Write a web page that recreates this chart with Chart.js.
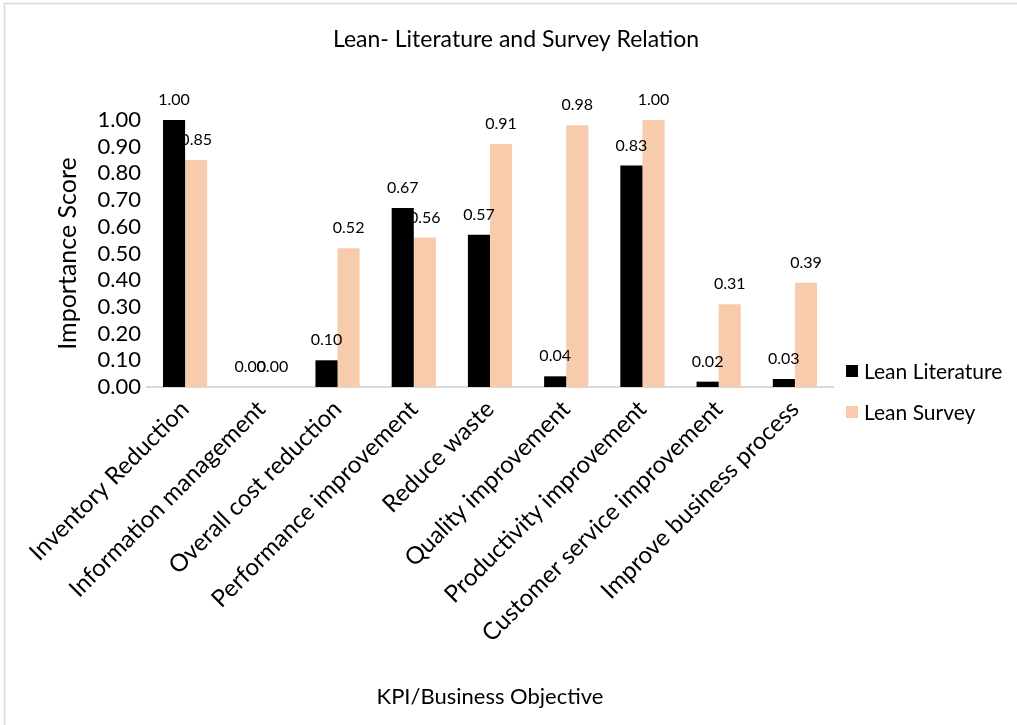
<!DOCTYPE html>
<html>
<head>
<meta charset="utf-8">
<script src="https://cdn.jsdelivr.net/npm/chart.js@4.4.1/dist/chart.umd.min.js"></script>
<style>
  html, body { margin: 0; padding: 0; background: #ffffff; }
  #wrap { width: 1017px; height: 725px; position: relative; }
</style>
</head>
<body>
<div id="wrap"><canvas id="chart"></canvas></div>
<script>
// KPI categories on the x axis
const categories = [
  'Inventory Reduction',
  'Information management',
  'Overall cost reduction',
  'Performance improvement',
  'Reduce waste',
  'Quality improvement',
  'Productivity improvement',
  'Customer service improvement',
  'Improve business process'
];

// Importance scores per source
const leanLiterature = [1.00, 0.00, 0.10, 0.67, 0.57, 0.04, 0.83, 0.02, 0.03];
const leanSurvey     = [0.85, 0.00, 0.52, 0.56, 0.91, 0.98, 1.00, 0.31, 0.39];

const seriesNames = ['Lean Literature', 'Lean Survey'];
const chartTitle = 'Lean- Literature and Survey Relation';
const yTitle = 'Importance Score';
const xTitle = 'KPI/Business Objective';

const FONT = 'Lato, "Noto Sans", sans-serif';
const colors = ['#000000', '#F8CBAD'];

// Light frame, title and legend drawn around the plot
const decorations = {
  id: 'decorations',
  beforeDraw(chart) {
    const ctx = chart.ctx;
    ctx.save();
    ctx.fillStyle = '#ffffff';
    ctx.fillRect(0, 0, chart.width, chart.height);
    ctx.strokeStyle = '#d9d9d9';
    ctx.lineWidth = 1.5;
    ctx.beginPath();
    ctx.moveTo(4.5, chart.height + 2);
    ctx.lineTo(4.5, 3.5);
    ctx.lineTo(chart.width + 2, 3.5);
    ctx.stroke();
    ctx.restore();
  },
  afterDraw(chart) {
    const ctx = chart.ctx;
    ctx.save();
    ctx.fillStyle = '#000000';
    ctx.font = '23px ' + FONT;
    ctx.textAlign = 'center';
    ctx.textBaseline = 'middle';
    ctx.fillText(chartTitle, 516, 40);

    // legend
    ctx.font = '21px ' + FONT;
    ctx.textAlign = 'left';
    chart.data.datasets.forEach((ds, i) => {
      const y = 371 + i * 41;
      ctx.fillStyle = ds.backgroundColor;
      ctx.fillRect(846, y - 6, 12, 12);
      ctx.fillStyle = '#000000';
      ctx.fillText(ds.label, 864, y + 1);
    });
    ctx.restore();
  }
};

// Value labels above each bar
const valueLabels = {
  id: 'valueLabels',
  afterDatasetsDraw(chart) {
    const ctx = chart.ctx;
    ctx.save();
    ctx.font = '16px ' + FONT;
    ctx.fillStyle = '#000000';
    ctx.textAlign = 'center';
    ctx.textBaseline = 'middle';
    chart.data.datasets.forEach((ds, di) => {
      const meta = chart.getDatasetMeta(di);
      meta.data.forEach((bar, i) => {
        ctx.fillText(ds.data[i].toFixed(2), bar.x, bar.y - 20);
      });
    });
    ctx.restore();
  }
};

new Chart(document.getElementById('chart'), {
  type: 'bar',
  data: {
    labels: categories,
    datasets: [
      { label: seriesNames[0], data: leanLiterature, backgroundColor: colors[0],
        categoryPercentage: 0.58, barPercentage: 1.0 },
      { label: seriesNames[1], data: leanSurvey, backgroundColor: colors[1],
        categoryPercentage: 0.58, barPercentage: 1.0 }
    ]
  },
  options: {
    responsive: true,
    maintainAspectRatio: false,
    animation: false,
    events: [],
    layout: { padding: { left: 49, top: 120, right: 184, bottom: 11 } },
    plugins: {
      legend: { display: false },
      title: { display: false },
      tooltip: { enabled: false }
    },
    scales: {
      x: {
        grid: { display: false, drawTicks: false },
        border: { display: true, color: '#d9d9d9', width: 2 },
        ticks: {
          color: '#000000',
          font: { family: FONT, size: 24 },
          minRotation: 45,
          maxRotation: 45,
          padding: 8,
          autoSkip: false
        },
        title: {
          display: true,
          text: xTitle,
          color: '#000000',
          font: { family: FONT, size: 22 }
        },
        afterFit(scale) { scale.height = 327; }
      },
      y: {
        min: 0,
        max: 1,
        grid: { display: false, drawTicks: false },
        border: { display: false },
        ticks: {
          stepSize: 0.1,
          autoSkip: false,
          color: '#000000',
          font: { family: FONT, size: 22 },
          padding: 6,
          callback: (v) => Number(v).toFixed(2)
        },
        title: {
          display: true,
          text: yTitle,
          color: '#000000',
          font: { family: FONT, size: 25 }
        },
        afterFit(scale) { scale.width = 98; }
      }
    }
  },
  plugins: [decorations, valueLabels]
});
</script>
</body>
</html>
